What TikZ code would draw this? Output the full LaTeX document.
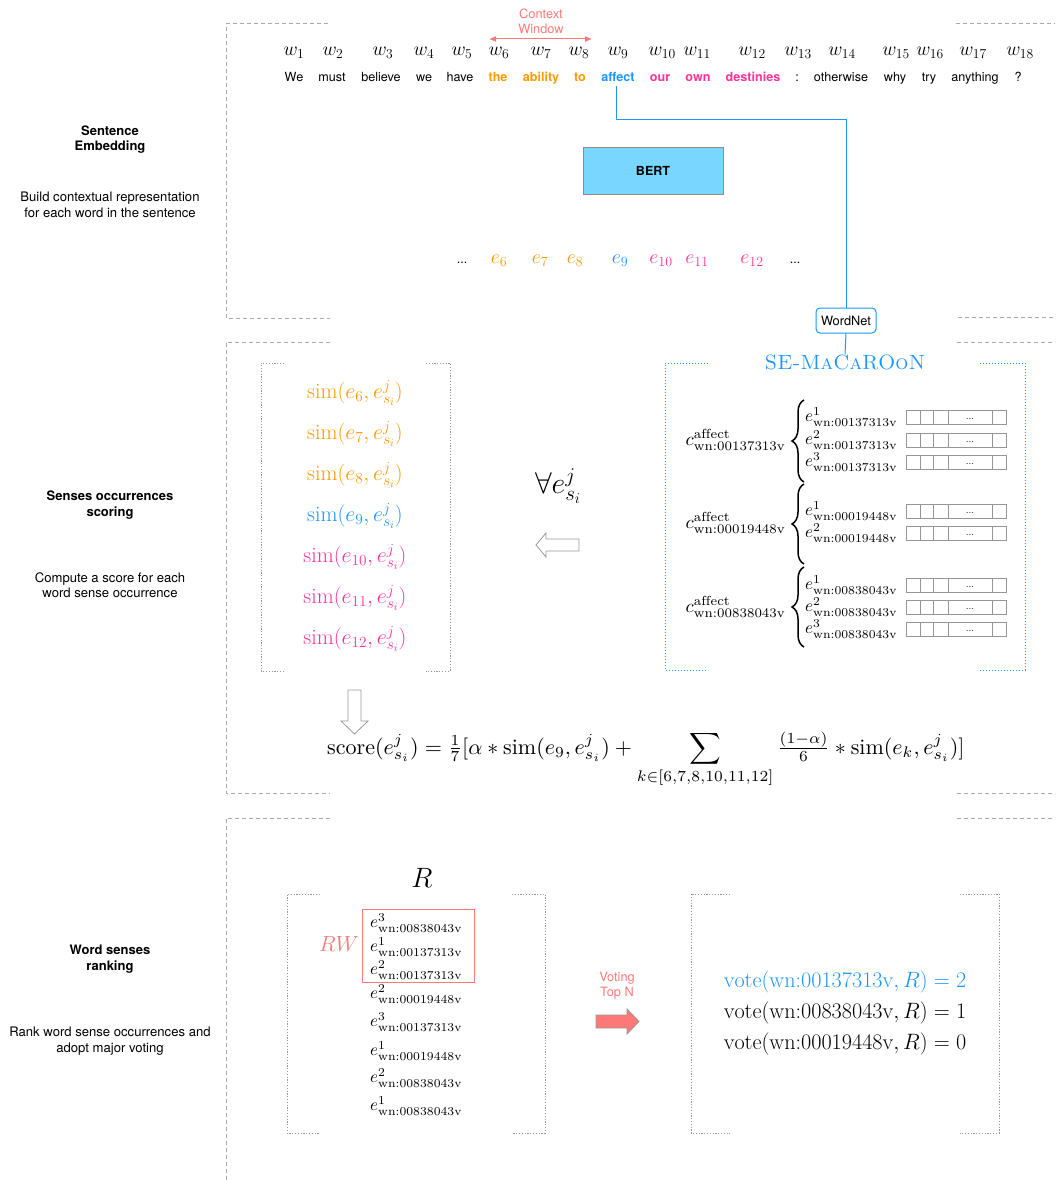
\documentclass[tikz,border=0pt]{standalone}
\RequirePackage{fix-cm}
\usepackage{amsmath}
\usepackage{graphicx}
\usepackage{fontspec}
\newfontfamily\helv{TeX Gyre Heros}
\usetikzlibrary{arrows.meta,decorations.pathreplacing}
\definecolor{cOrange}{RGB}{255,153,0}
\definecolor{cBlue}{RGB}{30,150,255}
\definecolor{cPink}{RGB}{255,51,153}
\definecolor{cSalmon}{RGB}{255,120,120}
\definecolor{cBert}{RGB}{120,214,255}
\definecolor{cSect}{RGB}{170,170,170}
\definecolor{cDot}{RGB}{150,150,150}
% sense-occurrence labels, set at 10pt and enlarged
\newcommand\wnlab[2]{\scalebox{1.72}{\fontsize{10}{12}\selectfont$e^{#1}_{\mathrm{wn{:}#2}}$}}
\newcommand\wncls[1]{\scalebox{1.88}{\fontsize{10}{12}\selectfont$c^{\mathrm{affect}}_{\mathrm{wn{:}#1}}$}}
\begin{document}
\begin{tikzpicture}[x=1pt,y=-1pt,
  sect/.style={draw=cSect, line width=1pt, dash pattern=on 4pt off 3pt},
  dotbox/.style={draw=cDot, line width=0.8pt, dash pattern=on 1.2pt off 1.6pt},
  bluedot/.style={draw=cBlue, line width=1pt, dash pattern=on 1.2pt off 1.8pt},
  sidehead/.style={font=\helv\bfseries\fontsize{13}{15.5}\selectfont, align=center, inner sep=0},
  sidetext/.style={font=\helv\fontsize{13.1}{15.5}\selectfont, align=center, inner sep=0},
  wsym/.style={font=\fontsize{19.5}{22}\selectfont, anchor=base, inner sep=0},
  word/.style={font=\helv\fontsize{12.6}{14}\selectfont, anchor=base, inner sep=0},
  hword/.style={font=\helv\bfseries\fontsize{12.6}{14}\selectfont, anchor=base, inner sep=0},
  emb/.style={font=\fontsize{20}{23}\selectfont, anchor=base, inner sep=0},
  simtxt/.style={font=\fontsize{22}{25}\selectfont, anchor=base, inner sep=0},
  wnl/.style={inner sep=0},
  vecbox/.style={draw=cDot, line width=1pt},
  hollow/.style={draw=gray!80, line width=0.8pt, fill=white},
  brc/.style={decorate, decoration={brace, amplitude=12pt}, line width=1.5pt},
  votetxt/.style={font=\fontsize{22.2}{25}\selectfont, inner sep=0},
  salm/.style={font=\helv\fontsize{12.8}{15}\selectfont, text=cSalmon, align=center, inner sep=0}
]
\useasboundingbox (0,0) rectangle (1055,1180);

% ---- stage frames ----
\draw[sect] (328,24) -- (226,24) -- (226,318) -- (330,318);
\draw[sect] (956,24) -- (1055,24);
\draw[sect] (958,317) -- (1055,317);
\draw[sect] (330,342) -- (226,342) -- (226,793) -- (330,793);
\draw[sect] (957,342) -- (1055,342);
\draw[sect] (957,793) -- (1055,793);
\draw[sect] (330,818) -- (226,818) -- (226,1180);
\draw[sect] (957,818) -- (1055,818);

% ---- stage descriptions ----
\node[sidehead] (h1) at (110,139.5) {Sentence\\Embedding};
\node[sidetext] (d1) at (110,205) {Build contextual representation\\for each word in the sentence};
\node[sidehead] (h2) at (110,505) {Senses occurrences\\scoring};
\node[sidetext] (d2) at (110,585) {Compute a score for each\\word sense occurrence};
\node[sidehead] (h3) at (110,959) {Word senses\\ranking};
\node[sidetext] (d3) at (110,1041) {Rank word sense occurrences and\\adopt major voting};

% ---- sentence ----
\foreach \i/\xx in {1/294,2/333,3/383,4/424,5/462,6/499,7/541,8/579,9/618,10/662,11/697,12/752,13/798,14/842,15/896,16/930,17/973,18/1020}
  \node[wsym] (w\i) at (\xx,56) {$w_{\i}$};
\node[word] (t1) at (294,82) {We};
\node[word] (t2) at (332,82) {must};
\node[word] (t3) at (381,82) {believe};
\node[word] (t4) at (424,82) {we};
\node[word] (t5) at (460,82) {have};
\node[hword, text=cOrange] (t6) at (498,82) {the};
\node[hword, text=cOrange] (t7) at (541,82) {ability};
\node[hword, text=cOrange] (t8) at (580,82) {to};
\node[hword, text=cBlue] (affect) at (618,82) {affect};
\node[hword, text=cPink] (t10) at (660,82) {our};
\node[hword, text=cPink] (t11) at (698,82) {own};
\node[hword, text=cPink] (t12) at (753,82) {destinies};
\node[word] (t13) at (797,82) {:};
\node[word] (t14) at (841,82) {otherwise};
\node[word] (t15) at (895,82) {why};
\node[word] (t16) at (929,82) {try};
\node[word] (t17) at (975,82) {anything};
\node[word] (t18) at (1018,82) {?};

% context window
\node[salm] (cw) at (541,21.5) {Context\\Window};
\coordinate (cwL) at (489,39);
\coordinate (cwR) at (592,39);
\draw[cSalmon, line width=1pt, {Latex[length=7pt,width=6pt]}-{Latex[length=7pt,width=6pt]}] (cwL) -- (cwR);

% ---- BERT ----
\node[draw=gray!90, line width=1pt, fill=cBert, minimum width=140pt, minimum height=47pt,
      font=\helv\bfseries\fontsize{12.5}{15}\selectfont] (bert) at (653,170.5) {BERT};

% contextual embeddings
\node[word] (edl) at (462,263) {...};
\node[emb, text=cOrange] (e6) at (499,263) {$e_6$};
\node[emb, text=cOrange] (e7) at (540,263) {$e_7$};
\node[emb, text=cOrange] (e8) at (575,263) {$e_8$};
\node[emb, text=cBlue] (e9) at (620,263) {$e_9$};
\node[emb, text=cPink] (e10) at (661,263) {$e_{10}$};
\node[emb, text=cPink] (e11) at (697,263) {$e_{11}$};
\node[emb, text=cPink] (e12) at (752,263) {$e_{12}$};
\node[word] (edr) at (795,263) {...};

% ---- WordNet link ----
\node[draw=cBlue, line width=1pt, rounded corners=4pt, fill=white, minimum width=60pt, minimum height=25pt,
      inner sep=0, font=\helv\fontsize{12.8}{15}\selectfont] (wordnet) at (846,320.5) {WordNet};
\node[font=\fontsize{20.6}{24}\selectfont, text=cBlue, anchor=base, inner sep=0] (semac) at (845,369) {\textsc{SE-MaCaROoN}};
\coordinate (turn) at (846,120);
\draw[cBlue, line width=1pt] (affect.south) ++(-2,4) |- (turn) -- (wordnet.north);
\draw[cBlue, line width=1pt] (wordnet.south) -- (semac.north);

% ---- sense embedding store ----
\draw[bluedot] (708,363) -- (665,363) -- (665,670) -- (708,670);
\draw[bluedot] (980,363) -- (1025,363) -- (1025,670) -- (980,670);

\draw[brc] (804,482) -- (804,400);
\draw[brc] (804,564) -- (804,484);
\draw[brc] (804,647) -- (804,567);
\node[wnl, anchor=east] (c1) at (786,440) {\wncls{00137313v}};
\node[wnl, anchor=east] (c2) at (786,523) {\wncls{00019448v}};
\node[wnl, anchor=east] (c3) at (786,607) {\wncls{00838043v}};

\foreach \n/\s/\id/\yy in {a1/1/00137313v/417, a2/2/00137313v/440, a3/3/00137313v/462,
                          b1/1/00019448v/511, b2/2/00019448v/533,
                          c1/1/00838043v/585, c2/2/00838043v/607, c3/3/00838043v/629} {
  \node[wnl, anchor=west] (s\n) at (805,\yy) {\wnlab{\s}{\id}};
  \draw[vecbox] (906,\yy-7) rectangle (1006,\yy+7);
  \foreach \xx in {920,933,948,992} \draw[vecbox] (\xx,\yy-7) -- (\xx,\yy+7);
  \node[font=\fontsize{10}{12}\selectfont, inner sep=0] (v\n) at (970,\yy+2) {...};
}

% ---- similarity list ----
\draw[dotbox] (284,363) -- (261,363) -- (261,671) -- (284,671);
\draw[dotbox] (426,363) -- (450,363) -- (450,671) -- (426,671);
\foreach \k/\c/\yy in {6/cOrange/398, 7/cOrange/439, 8/cOrange/480, 9/cBlue/521, 10/cPink/562, 11/cPink/603, 12/cPink/644}
  \node[simtxt, text=\c] (sim\k) at (355,\yy) {$\mathrm{sim}(e_{\k}, e^j_{s_i})$};

\node[font=\fontsize{30}{33}\selectfont, inner sep=0] (forall) at (558,486) {$\forall e^j_{s_i}$};
\draw[hollow] (536,545) -- (546,533) -- (546,539) -- (579,539) -- (579,551) -- (546,551) -- (546,557) -- cycle;

\draw[hollow] (348,690) -- (361,690) -- (361,721) -- (368,721) -- (354.5,734) -- (341,721) -- (348,721) -- cycle;

\node[anchor=base west, inner sep=0] (score) at (327,754)
  {\scalebox{2.2}{\fontsize{10}{12}\selectfont$\displaystyle \mathrm{score}(e^j_{s_i}) = \tfrac{1}{7}[\alpha * \mathrm{sim}(e_9, e^j_{s_i}) + \sum\limits_{k\in[6,7,8,10,11,12]} \tfrac{(1-\alpha)}{6} * \mathrm{sim}(e_k, e^j_{s_i})]$}};

% ---- ranking ----
\node[font=\fontsize{28}{32}\selectfont, inner sep=0] (R) at (422,878) {$R$};
\draw[dotbox] (320,894) -- (287,894) -- (287,1133) -- (320,1133);
\draw[dotbox] (512,894) -- (545,894) -- (545,1133) -- (512,1133);
\draw[cSalmon, line width=1pt] (362,909) rectangle (474,982);
\node[font=\fontsize{22}{25}\selectfont, text=cSalmon, inner sep=0] (RW) at (339,944) {$RW$};
\foreach \n/\s/\id/\yy in {1/3/00838043v/923, 2/1/00137313v/947, 3/2/00137313v/970, 4/2/00019448v/994,
                          5/3/00137313v/1022, 6/1/00019448v/1051, 7/2/00838043v/1078, 8/1/00838043v/1106}
  \node[wnl, anchor=west] (r\n) at (370,\yy) {\wnlab{\s}{\id}};

\node[salm] (vt) at (617,985.5) {Voting\\Top N};
\draw[draw=gray!80, line width=0.8pt, fill=cSalmon] (596,1015) -- (627,1015) -- (627,1009) -- (639,1021.5)
  -- (627,1034) -- (627,1028) -- (596,1028) -- cycle;

\draw[dotbox] (730,894) -- (691,894) -- (691,1133) -- (730,1133);
\draw[dotbox] (960,894) -- (999,894) -- (999,1133) -- (960,1133);
\node[votetxt, text=cBlue] (v1) at (845,982) {$\mathrm{vote}(\mathrm{wn{:}00137313v}, R) = 2$};
\node[votetxt] (v2) at (845,1013) {$\mathrm{vote}(\mathrm{wn{:}00838043v}, R) = 1$};
\node[votetxt] (v3) at (845,1044) {$\mathrm{vote}(\mathrm{wn{:}00019448v}, R) = 0$};
\end{tikzpicture}
\end{document}
